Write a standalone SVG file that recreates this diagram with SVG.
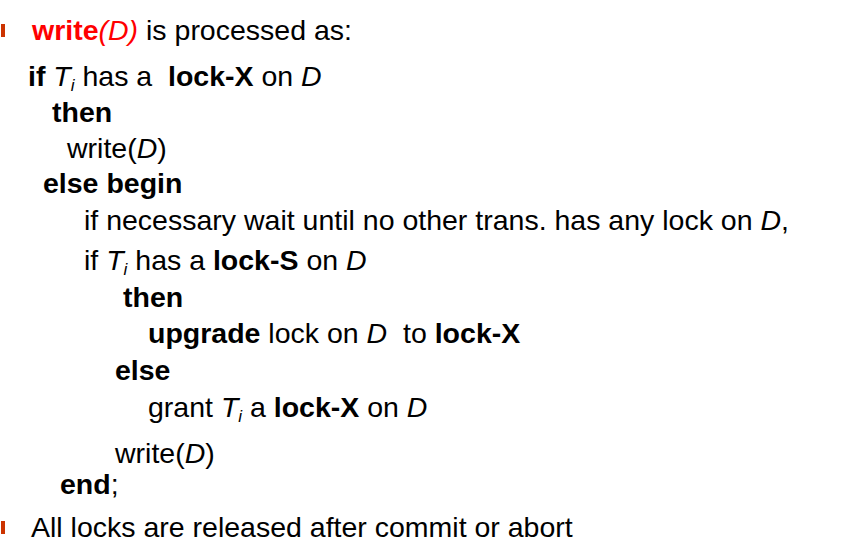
<svg xmlns="http://www.w3.org/2000/svg" width="845" height="560" viewBox="0 0 845 560">
<style>
text{font-family:"Liberation Sans",Arial,sans-serif;font-size:28.5px;fill:#000}
.b{font-weight:bold}.i{font-style:italic}.r{fill:#ff0000}
.s{font-size:17px;font-style:italic}
.bul{fill:#cc3300}
</style>
<rect width="845" height="560" fill="#fff"/>
<rect class="bul" x="1" y="24" width="4" height="13"/>
<text x="32" y="40"><tspan class="b r">write</tspan><tspan class="i r">(D)</tspan> is processed as:</text>
<text x="28" y="86"><tspan class="b">if</tspan> <tspan class="i">T</tspan><tspan class="s" dy="5">i</tspan><tspan dy="-5"> has a&#160; </tspan><tspan class="b">lock-X</tspan> on <tspan class="i">D</tspan></text>
<text x="52" y="122" class="b">then</text>
<text x="67" y="158">write(<tspan class="i">D</tspan>)</text>
<text x="43" y="193" class="b">else begin</text>
<text x="84" y="230">if necessary wait until no other trans. has any lock on <tspan class="i">D</tspan>,</text>
<text x="84" y="270">if <tspan class="i">T</tspan><tspan class="s" dy="5">i</tspan><tspan dy="-5"> has a </tspan><tspan class="b">lock-S</tspan> on <tspan class="i">D</tspan></text>
<text x="123" y="307" class="b">then</text>
<text x="148" y="343"><tspan class="b">upgrade</tspan> lock on <tspan class="i">D</tspan>&#160; to <tspan class="b">lock-X</tspan></text>
<text x="115" y="380" class="b">else</text>
<text x="148" y="417">grant <tspan class="i">T</tspan><tspan class="s" dy="5">i</tspan><tspan dy="-5"> a </tspan><tspan class="b">lock-X</tspan> on <tspan class="i">D</tspan></text>
<text x="115" y="463">write(<tspan class="i">D</tspan>)</text>
<text x="60" y="494"><tspan class="b">end</tspan>;</text>
<rect class="bul" x="1" y="521" width="4" height="13"/>
<text x="31" y="537">All locks are released after commit or abort</text>
</svg>
